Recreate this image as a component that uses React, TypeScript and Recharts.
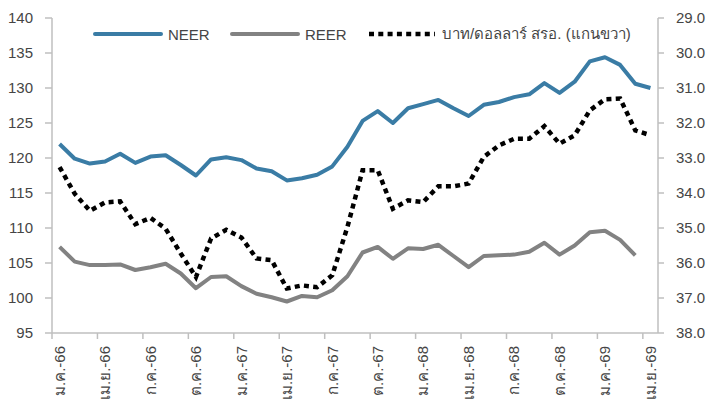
import React from "react";
import { Legend, Line, LineChart, XAxis, YAxis } from "recharts";

// monthly, ม.ค.-66 .. เม.ย.-69
const months = [
  "ม.ค.-66", "ก.พ.-66", "มี.ค.-66", "เม.ย.-66", "พ.ค.-66", "มิ.ย.-66",
  "ก.ค.-66", "ส.ค.-66", "ก.ย.-66", "ต.ค.-66", "พ.ย.-66", "ธ.ค.-66",
  "ม.ค.-67", "ก.พ.-67", "มี.ค.-67", "เม.ย.-67", "พ.ค.-67", "มิ.ย.-67",
  "ก.ค.-67", "ส.ค.-67", "ก.ย.-67", "ต.ค.-67", "พ.ย.-67", "ธ.ค.-67",
  "ม.ค.-68", "ก.พ.-68", "มี.ค.-68", "เม.ย.-68", "พ.ค.-68", "มิ.ย.-68",
  "ก.ค.-68", "ส.ค.-68", "ก.ย.-68", "ต.ค.-68", "พ.ย.-68", "ธ.ค.-68",
  "ม.ค.-69", "ก.พ.-69", "มี.ค.-69", "เม.ย.-69",
];

const neer = [
  122.0, 119.9, 119.2, 119.5, 120.6, 119.3, 120.2, 120.4, 119.0, 117.5,
  119.8, 120.1, 119.7, 118.5, 118.1, 116.8, 117.1, 117.6, 118.8, 121.6,
  125.3, 126.7, 125.0, 127.1, 127.7, 128.3, 127.1, 126.0, 127.6, 128.0,
  128.7, 129.1, 130.7, 129.3, 130.9, 133.8, 134.4, 133.3, 130.6, 130.0,
];

const reer = [
  107.3, 105.2, 104.7, 104.7, 104.8, 104.0, 104.4, 104.9, 103.5, 101.4,
  103.0, 103.1, 101.7, 100.6, 100.1, 99.5, 100.3, 100.1, 101.1, 103.1,
  106.5, 107.3, 105.6, 107.1, 107.0, 107.6, 106.0, 104.4, 106.0, 106.1,
  106.2, 106.6, 107.9, 106.2, 107.5, 109.4, 109.6, 108.3, 106.1, null,
];

// baht per US dollar, right axis (reversed)
const thbUsd = [
  33.26, 34.02, 34.51, 34.27, 34.24, 34.89, 34.71, 35.02, 35.73, 36.4,
  35.3, 35.05, 35.27, 35.87, 35.92, 36.73, 36.64, 36.69, 36.35, 34.97,
  33.35, 33.35, 34.45, 34.21, 34.26, 33.81, 33.81, 33.73, 32.97, 32.64,
  32.45, 32.45, 32.09, 32.59, 32.35, 31.64, 31.32, 31.3, 32.21, 32.35,
];

const leftTicks = [95, 100, 105, 110, 115, 120, 125, 130, 135, 140];
const rightTicks = [29, 30, 31, 32, 33, 34, 35, 36, 37, 38];

const data = months.map((m, i) => ({
  month: m,
  neer: neer[i],
  reer: reer[i],
  thb: thbUsd[i],
}));

const FONT = "'Liberation Sans', 'DejaVu Sans', sans-serif";
const TEXT = "#454545";
const AXIS = "#bfbfbf";
const NEER = "#3a7ca5";
const REER = "#828282";
const THB = "#000000";
const THB_DASH = "5 4.3";

const legendItems = [
  { key: "neer", label: "NEER", color: NEER, dash: undefined, left: 93 },
  { key: "reer", label: "REER", color: REER, dash: undefined, left: 230 },
  { key: "thb", label: "บาท/ดอลลาร์ สรอ. (แกนขวา)", color: THB, dash: THB_DASH, left: 367 },
];

function ChartLegend() {
  return (
    <div style={{ position: "relative", width: 709, height: 24 }}>
      {legendItems.map((it) => (
        <div
          key={it.key}
          style={{
            position: "absolute",
            left: it.left,
            top: 0,
            display: "flex",
            alignItems: "center",
            height: 24,
            whiteSpace: "nowrap",
          }}
        >
          <svg width={70} height={10}>
            <line
              x1={2}
              x2={68}
              y1={5}
              y2={5}
              stroke={it.color}
              strokeWidth={it.dash ? 4.5 : 4}
              strokeDasharray={it.dash}
              strokeLinecap={it.dash ? "butt" : "round"}
            />
          </svg>
          <span style={{ marginLeft: 5, fontSize: 15, color: TEXT, fontFamily: FONT }}>
            {it.label}
          </span>
        </div>
      ))}
    </div>
  );
}

function MonthTick(props: any) {
  const { x, y, payload } = props;
  const half = payload && typeof payload.offset === "number" ? payload.offset : 7.57;
  return (
    <g>
      <line x1={x - half} x2={x - half} y1={y} y2={y + 6} stroke={AXIS} strokeWidth={1.5} />
      <text
        transform={`translate(${x},${y + 13}) rotate(-90)`}
        textAnchor="end"
        dy="0.35em"
        fontSize={15}
        fill={TEXT}
        fontFamily={FONT}
      >
        {payload.value}
      </text>
    </g>
  );
}

export default function App() {
  return (
    <div style={{ position: "absolute", left: 0, top: 0, background: "#fff" }}>
      <LineChart
        width={709}
        height={402}
        data={data}
        margin={{ top: 18, right: 0, bottom: 0, left: 0 }}
        style={{ fontFamily: FONT }}
      >
        <XAxis
          dataKey="month"
          scale="band"
          interval={2}
          height={69}
          tickSize={0}
          tickMargin={0}
          tickLine={false}
          axisLine={{ stroke: AXIS, strokeWidth: 1.5 }}
          tick={<MonthTick />}
        />
        <YAxis
          yAxisId="left"
          width={52}
          domain={[95, 140]}
          ticks={leftTicks}
          allowDataOverflow
          tickSize={7}
          tickMargin={12}
          axisLine={{ stroke: AXIS, strokeWidth: 1.5 }}
          tickLine={{ stroke: AXIS, strokeWidth: 1.5 }}
          tick={{ fontSize: 15, fill: TEXT, fontFamily: FONT }}
        />
        <YAxis
          yAxisId="right"
          orientation="right"
          width={51}
          domain={[29, 38]}
          ticks={rightTicks}
          reversed
          allowDataOverflow
          tickSize={6}
          tickMargin={12}
          tickFormatter={(v: number) => v.toFixed(1)}
          axisLine={{ stroke: AXIS, strokeWidth: 1.5 }}
          tickLine={{ stroke: AXIS, strokeWidth: 1.5 }}
          tick={{ fontSize: 15, fill: TEXT, fontFamily: FONT }}
        />
        <Legend
          layout="horizontal"
          verticalAlign="middle"
          align="center"
          wrapperStyle={{ top: 22, left: 0, width: 709, height: 24 }}
          content={() => <ChartLegend />}
        />
        <Line
          yAxisId="left"
          type="linear"
          dataKey="neer"
          name="NEER"
          stroke={NEER}
          strokeWidth={4}
          dot={false}
          strokeLinejoin="round"
          isAnimationActive={false}
        />
        <Line
          yAxisId="left"
          type="linear"
          dataKey="reer"
          name="REER"
          stroke={REER}
          strokeWidth={4}
          dot={false}
          strokeLinejoin="round"
          isAnimationActive={false}
        />
        <Line
          yAxisId="right"
          type="linear"
          dataKey="thb"
          name="บาท/ดอลลาร์ สรอ. (แกนขวา)"
          stroke={THB}
          strokeWidth={4.5}
          strokeDasharray={THB_DASH}
          dot={false}
          isAnimationActive={false}
        />
      </LineChart>
    </div>
  );
}
